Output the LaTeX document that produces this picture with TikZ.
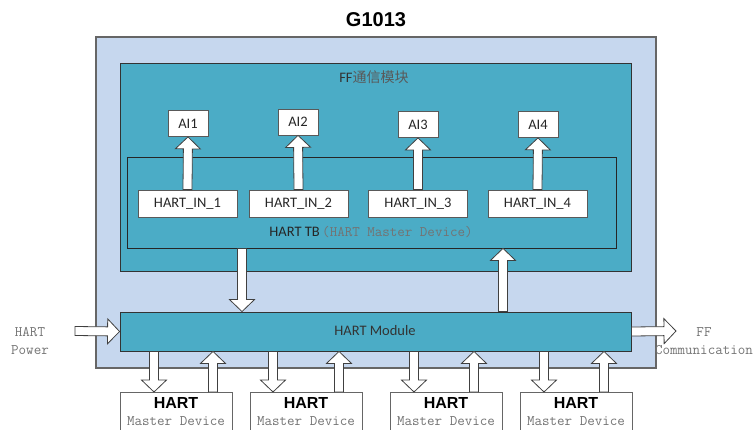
\documentclass[tikz,border=0pt]{standalone}
\usepackage{fontspec}
\setmainfont{Carlito}
\newfontfamily\cjk{Noto Sans CJK SC}
\newfontfamily\arialfont{Liberation Sans}
\usetikzlibrary{calc}
\definecolor{fondo}{RGB}{198,215,238}
\definecolor{turquesa}{RGB}{75,172,198}
\newcommand{\cuerpo}{\fontsize{14.5pt}{17pt}\selectfont}
\newcommand{\songti}{\fontsize{14.6pt}{17.5pt}\selectfont\ttfamily\color{black!55}}

\begin{document}
\begin{tikzpicture}[x=1pt, y=-1pt,
		exterior/.style={draw=black!60, fill=fondo, line width=1.2pt, inner sep=0pt},
		modulo/.style={draw=black!80, fill=turquesa, line width=0.9pt, inner sep=0pt},
		marco/.style={draw=black!85, line width=0.8pt, inner sep=0pt},
		blanca/.style={draw=black!65, fill=white, line width=0.8pt, inner sep=0pt, text=black!85, font=\cuerpo},
		equipo/.style={draw=black!60, fill=white, line width=0.8pt, inner sep=0pt, minimum width=112pt, minimum height=40pt, anchor=north},
		flecha/.style={draw=black!75, fill=white, line width=0.8pt, line join=miter,
			to path={
				($(\tikztotarget)!12pt!(\tikztostart)$) coordinate (fb)
				($(\tikztostart)!4.5pt!90:(\tikztotarget)$)
				-- ($(fb)!4.5pt!90:(\tikztotarget)$)
				-- ($(fb)!12.5pt!90:(\tikztotarget)$)
				-- (\tikztotarget)
				-- ($(fb)!12.5pt!-90:(\tikztotarget)$)
				-- ($(fb)!4.5pt!-90:(\tikztotarget)$)
				-- ($(\tikztostart)!4.5pt!-90:(\tikztotarget)$)
				-- cycle}}]
		\useasboundingbox (0,0) rectangle (753,429);
		
		% Titulo y caja exterior
		\node[font=\arialfont\bfseries\fontsize{20pt}{24pt}\selectfont] (titulo) at (376,20) {G1013};
		\node[exterior, minimum width=560pt, minimum height=331pt] (g1013) at (376,202.5) {};
		
		% Modulo FF
		\node[modulo, minimum width=511pt, minimum height=208pt] (ff) at (375.5,167) {};
		\node[font=\cuerpo, text=black!80] (fftxt) at (374,77) {FF{\cjk\fontsize{14pt}{17pt}\selectfont\color{black!65}通信模块}};
		
		% HART TB
		\node[marco, minimum width=489pt, minimum height=91pt] (tb) at (372,202.5) {};
		\node[font=\cuerpo, text=black!85] (tbtxt) at (371,232) {HART TB\,{\songti(HART Master Device)}};
		
		% Entradas HART_IN
		\node[blanca, minimum width=99pt, minimum height=27pt] (in1) at (187.5,203.5) {HART\_IN\_1};
		\node[blanca, minimum width=99pt, minimum height=27pt] (in2) at (298.5,203.5) {HART\_IN\_2};
		\node[blanca, minimum width=99pt, minimum height=27pt] (in3) at (418,203.5) {HART\_IN\_3};
		\node[blanca, minimum width=99pt, minimum height=27pt] (in4) at (537.5,203.5) {HART\_IN\_4};
		
		% Bloques AI
		\node[blanca, minimum width=40pt, minimum height=26pt] (ai1) at (188,123.5) {AI1};
		\node[blanca, minimum width=40pt, minimum height=26pt] (ai2) at (298,122) {AI2};
		\node[blanca, minimum width=40pt, minimum height=26pt] (ai3) at (418,124.5) {AI3};
		\node[blanca, minimum width=40pt, minimum height=26pt] (ai4) at (538,124.5) {AI4};
		
		\draw[flecha] (in1.north) to (ai1.south);
		\draw[flecha] (in2.north) to (ai2.south);
		\draw[flecha] (in3.north) to (ai3.south);
		\draw[flecha] (in4.north) to (ai4.south);
		
		% Modulo HART
		\node[modulo, minimum width=511pt, minimum height=39pt] (mod) at (375.5,331.5) {};
		\node[font=\cuerpo, text=black!80] (modtxt) at (375,331) {HART Module};
		
		\draw[flecha] (tb.south -| 242,0) to (mod.north -| 242,0);
		\draw[flecha] (mod.north -| 503,0) to (tb.south -| 503,0);
		
		% Entrada y salida
		\node[align=center, font=\songti] (pwtxt) at (30,341) {HART\\Power};
		\coordinate (pw) at (75,331);
		\draw[flecha] (pw) to (mod.west);
		\node[align=center, font=\songti] (fftxt2) at (704,341) {FF\\Communication};
		\coordinate (ffc) at (676,331);
		\draw[flecha] (mod.east) to (ffc);
		
		% Equipos HART
		\node[equipo] (d1) at (176,392) {};
		\node[equipo] (d2) at (306,392) {};
		\node[equipo] (d3) at (446,392) {};
		\node[equipo] (d4) at (576,392) {};
		
		\node[font=\arialfont\bfseries\fontsize{16pt}{19pt}\selectfont] (d1h) at (176,403) {HART};
		\node[font=\arialfont\bfseries\fontsize{16pt}{19pt}\selectfont] (d2h) at (306,403) {HART};
		\node[font=\arialfont\bfseries\fontsize{16pt}{19pt}\selectfont] (d3h) at (446,403) {HART};
		\node[font=\arialfont\bfseries\fontsize{16pt}{19pt}\selectfont] (d4h) at (576,403) {HART};
		
		\node[font=\songti] (d1m) at (176,421.5) {Master Device};
		\node[font=\songti] (d2m) at (306,421.5) {Master Device};
		\node[font=\songti] (d3m) at (446,421.5) {Master Device};
		\node[font=\songti] (d4m) at (576,421.5) {Master Device};
		
		\draw[flecha] (mod.south -| 154,0) to (d1.north -| 154,0);
		\draw[flecha] (d1.north -| 213,0) to (mod.south -| 213,0);
		\draw[flecha] (mod.south -| 273,0) to (d2.north -| 273,0);
		\draw[flecha] (d2.north -| 339,0) to (mod.south -| 339,0);
		\draw[flecha] (mod.south -| 414,0) to (d3.north -| 414,0);
		\draw[flecha] (d3.north -| 474,0) to (mod.south -| 474,0);
		\draw[flecha] (mod.south -| 544,0) to (d4.north -| 544,0);
		\draw[flecha] (d4.north -| 604,0) to (mod.south -| 604,0);
	\end{tikzpicture}
\end{document}
